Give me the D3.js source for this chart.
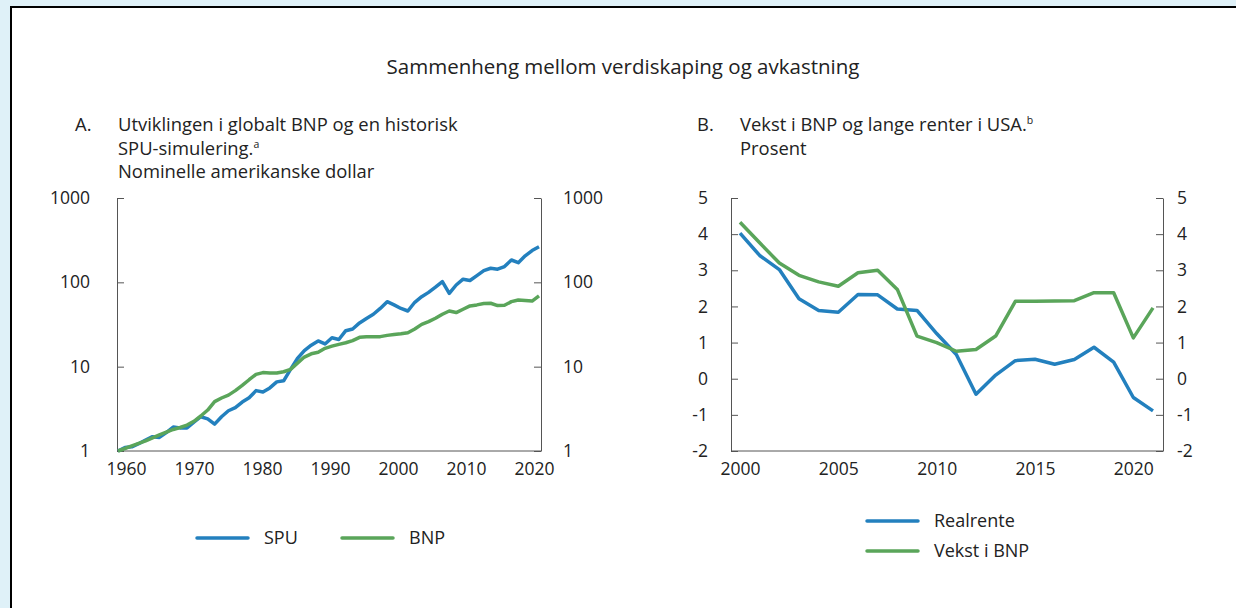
<!DOCTYPE html>
<html>
<head>
<meta charset="utf-8">
<script src="https://cdn.jsdelivr.net/npm/d3@7"></script>
<style>
  html, body { margin: 0; padding: 0; background: #dff1f8; overflow: hidden; }
  svg { display: block; }
  text { font-family: "Open Sans", "Noto Sans", sans-serif; fill: #222; }
  .axis path, .axis line { stroke: #555; }
  .axis text { font-size: 17.5px; fill: #222; font-family: "Open Sans", sans-serif; }
</style>
</head>
<body>
<svg id="chart" width="1236" height="608"></svg>
<script>
// panel A: index, 1960 = 1
const yearsA = d3.range(1960, 2022);
const spu = [1.0, 1.1, 1.12, 1.22, 1.35, 1.48, 1.45, 1.65, 1.92, 1.88,
             1.88, 2.2, 2.55, 2.4, 2.08, 2.55, 3.0, 3.26, 3.8, 4.27,
             5.2, 5.0, 5.6, 6.6, 6.8, 9.3, 12.5, 15.5, 18, 20.2,
             18.6, 22, 21, 26.7, 28, 33, 37.3, 41.8, 49, 59,
             54, 49, 45.7, 58, 67.6, 76, 87.6, 102, 74, 93,
             109, 105, 120, 138, 147, 143, 154, 184, 171, 206,
             238, 264];
const bnp = [1.0, 1.07, 1.15, 1.23, 1.32, 1.43, 1.55, 1.67, 1.8, 1.9,
             2.03, 2.25, 2.6, 3.06, 3.85, 4.25, 4.6, 5.2, 6.0, 7.0,
             8.1, 8.5, 8.4, 8.4, 8.7, 9.3, 11.0, 13.0, 14.2, 14.8,
             16.5, 17.5, 18.4, 19.2, 20.4, 22.3, 22.6, 22.7, 22.7, 23.5,
             24.0, 24.5, 25.3, 28, 31.7, 34.2, 37.5, 41.8, 45.7, 43.8,
             48, 52.5, 54, 56, 56.5, 53, 53.5, 59, 61.8, 61,
             60, 69];
const ticksAx = [1960, 1970, 1980, 1990, 2000, 2010, 2020];
const ticksAy = [1, 10, 100, 1000];

// panel B: percent
const yearsB = d3.range(2000, 2022);
const realrente = [4.03, 3.41, 3.02, 2.21, 1.89, 1.84, 2.33, 2.32, 1.93, 1.89,
                   1.25, 0.67, -0.43, 0.1, 0.5, 0.54, 0.4, 0.53, 0.87, 0.46,
                   -0.52, -0.89];
const vekst = [4.33, 3.76, 3.2, 2.86, 2.68, 2.56, 2.93, 3.0, 2.47, 1.18,
               1.0, 0.76, 0.81, 1.18, 2.14, 2.14, 2.15, 2.16, 2.38, 2.38,
               1.13, 1.96];
const ticksBx = [2000, 2005, 2010, 2015, 2020];
const ticksBy = [-2, -1, 0, 1, 2, 3, 4, 5];

const blue = "#2380be", green = "#5aa55a";

const svg = d3.select("#chart");

// page background and the black frame edge (top and left only)
svg.append("rect").attr("width", 1236).attr("height", 608).attr("fill", "#dff1f8");
svg.append("rect").attr("x", 10).attr("y", 6).attr("width", 1226).attr("height", 602).attr("fill", "#fff");
svg.append("path").attr("d", "M11,608V7H1236").attr("fill", "none")
   .attr("stroke", "#000").attr("stroke-width", 2);

svg.append("text")
   .attr("x", 623).attr("y", 74)
   .attr("text-anchor", "middle")
   .style("font-size", "20.5px")
   .text("Sammenheng mellom verdiskaping og avkastning");

// panel headings
function heading(xLetter, xText, letter, lines) {
  svg.append("text").attr("x", xLetter).attr("y", 131)
     .style("font-size", "18.4px").text(letter);
  lines.forEach((l, i) => {
    const t = svg.append("text").attr("x", xText).attr("y", 131 + i * 23.5)
                 .style("font-size", "18.4px");
    t.append("tspan").text(l[0]);
    if (l[1]) t.append("tspan").attr("dy", -7).style("font-size", "10.5px").text(l[1]);
  });
}
heading(75, 118, "A.", [["Utviklingen i globalt BNP og en historisk"], ["SPU-simulering.", "a"], ["Nominelle amerikanske dollar"]]);
heading(697, 740, "B.", [["Vekst i BNP og lange renter i USA.", "b"], ["Prosent"]]);

// panel A chart
const xA = d3.scaleLinear().domain([1960, 2021]).range([118, 539]);
// the year labels sit a little to the right of the data points
const xAlab = d3.scaleLinear().domain([1960, 2020]).range([126, 534]);
const yA = d3.scaleLog().domain([1, 1000]).range([451, 198]);
const left = 117, right = 541;

svg.append("g").attr("class", "axis")
   .attr("transform", `translate(${left},0)`)
   .call(d3.axisLeft(yA).tickValues(ticksAy).tickFormat(d3.format("d"))
           .tickSizeInner(-7).tickSizeOuter(0).tickPadding(27));
svg.append("g").attr("class", "axis")
   .attr("transform", `translate(${right},0)`)
   .call(d3.axisRight(yA).tickValues(ticksAy).tickFormat(d3.format("d"))
           .tickSizeInner(-7).tickSizeOuter(0).tickPadding(22));
svg.append("line").attr("x1", left).attr("x2", right)
   .attr("y1", 451).attr("y2", 451).attr("stroke", "#555");
svg.append("g").attr("class", "axis")
   .attr("transform", "translate(0,451)")
   .call(d3.axisBottom(xAlab).tickValues(ticksAx).tickFormat(d3.format("d"))
           .tickSize(0).tickPadding(12))
   .select(".domain").remove();

const lineA = s => d3.line().x((d, i) => xA(yearsA[i])).y(d => yA(d))(s);
svg.append("path").attr("d", lineA(spu)).attr("fill", "none")
   .attr("stroke", blue).attr("stroke-width", 3.5).attr("stroke-linejoin", "round");
svg.append("path").attr("d", lineA(bnp)).attr("fill", "none")
   .attr("stroke", green).attr("stroke-width", 3.5).attr("stroke-linejoin", "round");

// panel B chart
const xB = d3.scaleLinear().domain([2000, 2021]).range([740, 1153]);
const yB = d3.scaleLinear().domain([-2, 5]).range([451, 198]);
const leftB = 731, rightB = 1163;

svg.append("g").attr("class", "axis")
   .attr("transform", `translate(${leftB},0)`)
   .call(d3.axisLeft(yB).tickValues(ticksBy).tickFormat(d => String(d))
           .tickSizeInner(-7).tickSizeOuter(0).tickPadding(23));
svg.append("g").attr("class", "axis")
   .attr("transform", `translate(${rightB},0)`)
   .call(d3.axisRight(yB).tickValues(ticksBy).tickFormat(d => String(d))
           .tickSizeInner(-7).tickSizeOuter(0).tickPadding(14));
svg.append("line").attr("x1", leftB).attr("x2", rightB)
   .attr("y1", 451).attr("y2", 451).attr("stroke", "#555");
svg.append("g").attr("class", "axis")
   .attr("transform", "translate(0,451)")
   .call(d3.axisBottom(xB).tickValues(ticksBx).tickFormat(d3.format("d"))
           .tickSize(0).tickPadding(12))
   .select(".domain").remove();

const lineB = s => d3.line().x((d, i) => xB(yearsB[i])).y(d => yB(d))(s);
svg.append("path").attr("d", lineB(realrente)).attr("fill", "none")
   .attr("stroke", blue).attr("stroke-width", 3.5).attr("stroke-linejoin", "round");
svg.append("path").attr("d", lineB(vekst)).attr("fill", "none")
   .attr("stroke", green).attr("stroke-width", 3.5).attr("stroke-linejoin", "round");

// legends
function legendItem(x, y, color, label) {
  svg.append("line").attr("x1", x).attr("x2", x + 51).attr("y1", y).attr("y2", y)
     .attr("stroke", color).attr("stroke-width", 3.5).attr("stroke-linecap", "round");
  svg.append("text").attr("x", x + 67).attr("y", y + 6)
     .style("font-size", "18px").text(label);
}
legendItem(197, 538, blue, "SPU");
legendItem(342, 538, green, "BNP");
legendItem(867, 521, blue, "Realrente");
legendItem(867, 551, green, "Vekst i BNP");
</script>
</body>
</html>
